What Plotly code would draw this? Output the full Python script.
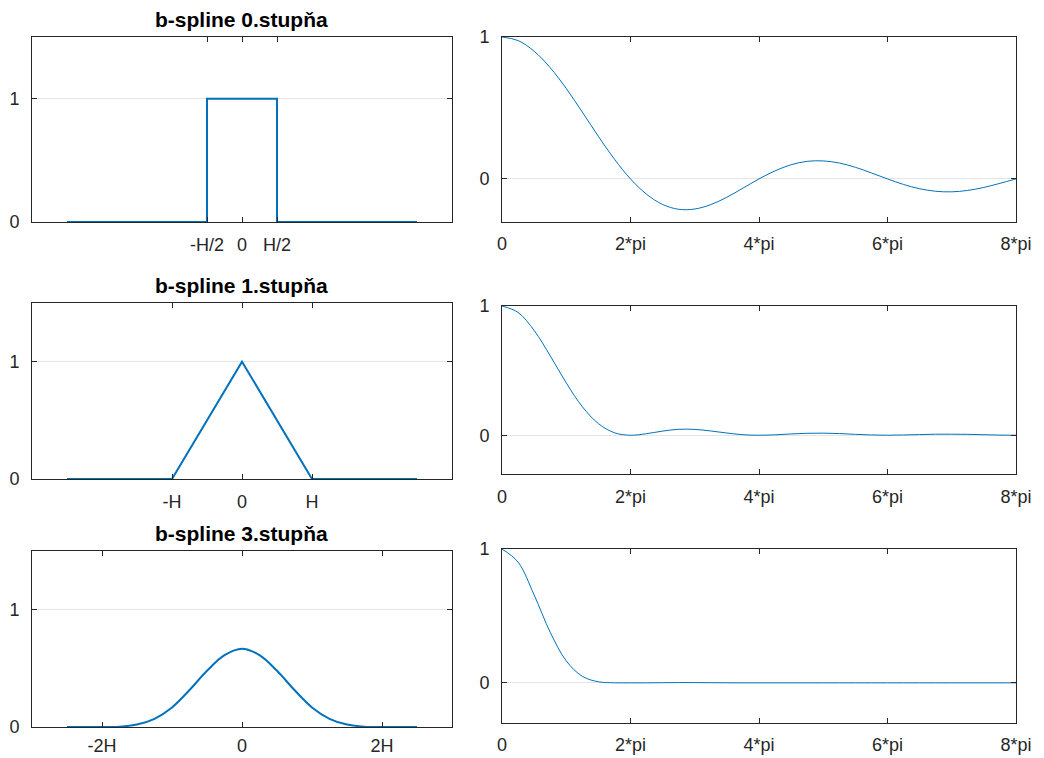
import math
import plotly.graph_objects as go

# ---------------- data ----------------
titles = ["b-spline 0.stupňa", "b-spline 1.stupňa", "b-spline 3.stupňa"]

# left column: b-splines, x in units of H
box_x = [-2.5, -0.5, -0.5, 0.5, 0.5, 2.5]
box_y = [0, 0, 1, 1, 0, 0]

tri_x = [-2.5, -1, 0, 1, 2.5]
tri_y = [0, 0, 1, 0, 0]

cub_x = [-2.5, -2.25, -2.0, -1.75, -1.5, -1.25, -1.0, -0.75, -0.5, -0.25, 0.0,
         0.25, 0.5, 0.75, 1.0, 1.25, 1.5, 1.75, 2.0, 2.25, 2.5]
cub_y = [0, 0, 0, 0.003, 0.021, 0.070, 0.167, 0.315, 0.479, 0.612, 0.667,
         0.612, 0.479, 0.315, 0.167, 0.070, 0.021, 0.003, 0, 0, 0]

left_ticks = [[-0.5, 0, 0.5], [-1, 0, 1], [-2, 0, 2]]
left_ticktext = [["-H/2", "0", "H/2"], ["-H", "0", "H"], ["-2H", "0", "2H"]]

# right column: spectra, x in multiples of pi
w_pi = [0, 0.25, 0.5, 0.75, 1.0, 1.25, 1.5, 1.75, 2.0, 2.25, 2.5, 2.75, 3.0,
        3.25, 3.5, 3.75, 4.0, 4.25, 4.5, 4.75, 5.0, 5.25, 5.5, 5.75, 6.0,
        6.25, 6.5, 6.75, 7.0, 7.25, 7.5, 7.75, 8.0]
spec0 = [1, 0.975, 0.900, 0.784, 0.637, 0.471, 0.300, 0.139, 0, -0.108,
         -0.180, -0.214, -0.212, -0.181, -0.129, -0.065, 0, 0.057, 0.100,
         0.124, 0.127, 0.112, 0.082, 0.042, 0, -0.039, -0.069, -0.087,
         -0.091, -0.081, -0.060, -0.031, 0]
spec1 = [1, 0.950, 0.811, 0.615, 0.405, 0.221, 0.090, 0.019, 0, 0.012,
         0.032, 0.046, 0.045, 0.033, 0.017, 0.004, 0, 0.003, 0.010, 0.015,
         0.016, 0.013, 0.007, 0.002, 0, 0.002, 0.005, 0.008, 0.008, 0.007,
         0.004, 0.001, 0]
spec3 = [1, 0.902, 0.657, 0.378, 0.164, 0.049, 0.008, 0.0004, 0, 0.0001,
         0.001, 0.002, 0.002, 0.001, 0.0003, 0, 0, 0, 0, 0, 0, 0, 0, 0, 0,
         0, 0, 0, 0, 0, 0, 0, 0]

right_tickvals_pi = [0, 2, 4, 6, 8]
right_ticktext = ["0", "2*pi", "4*pi", "6*pi", "8*pi"]

# ---------------- figure ----------------
W, Hh = 1044, 758
BLUE = "#0072BD"
AX = "#262626"
GRID = "#e5e5e5"
FONT = "Liberation Sans, Arial, Helvetica, sans-serif"

def px_dom(a, b, total):
    return [a / total, b / total]

def py_dom(top, bottom):
    return [1 - bottom / Hh, 1 - top / Hh]

left_x_dom = px_dom(32, 452, W)
right_x_dom = px_dom(502, 1016, W)
left_y_doms = [py_dom(37, 222), py_dom(303, 479), py_dom(551, 727)]
right_y_doms = [py_dom(37, 221.5), py_dom(306, 474), py_dom(549, 723)]
left_x_standoff = [6, 6, 2]
right_x_standoff = [6, 6, 5]

fig = go.Figure()

left_data = [(box_x, box_y), (tri_x, tri_y), (cub_x, cub_y)]
right_data = [spec0, spec1, spec3]

layout = dict(
    width=W, height=Hh,
    autosize=False,
    margin=dict(l=0, r=0, t=0, b=0, pad=0),
    paper_bgcolor="white", plot_bgcolor="white",
    showlegend=False,
    font=dict(family=FONT, size=18, color=AX),
)

common_axis = dict(
    showline=True, linecolor=AX, linewidth=1, mirror="ticks",
    ticks="inside", ticklen=5, tickcolor=AX, tickwidth=1,
    zeroline=False, automargin=False,
    tickfont=dict(family=FONT, size=18, color=AX),
)

annotations = []
for i in range(3):
    n_l = 2 * i + 1
    n_r = 2 * i + 2
    xs, ys = left_data[i]
    shape = "spline" if i == 2 else "linear"
    fig.add_trace(go.Scatter(
        x=xs, y=ys, mode="lines",
        line=dict(color=BLUE, width=2, shape=shape),
        xaxis="x" + str(n_l), yaxis="y" + str(n_l), hoverinfo="skip"))
    fig.add_trace(go.Scatter(
        x=[v * math.pi for v in w_pi], y=right_data[i], mode="lines",
        line=dict(color=BLUE, width=1, shape="spline"),
        xaxis="x" + str(n_r), yaxis="y" + str(n_r), hoverinfo="skip"))

    layout["xaxis" + str(n_l)] = dict(
        common_axis, domain=left_x_dom, anchor="y" + str(n_l),
        range=[-3, 3], tickvals=left_ticks[i], ticktext=left_ticktext[i],
        showgrid=False, ticklabelstandoff=left_x_standoff[i])
    layout["yaxis" + str(n_l)] = dict(
        common_axis, domain=left_y_doms[i], anchor="x" + str(n_l),
        range=[0, 1.5], tickvals=[0, 1], showgrid=True, gridcolor=GRID,
        gridwidth=1, ticklabelstandoff=8)
    layout["xaxis" + str(n_r)] = dict(
        common_axis, domain=right_x_dom, anchor="y" + str(n_r),
        range=[0, 8 * math.pi],
        tickvals=[v * math.pi for v in right_tickvals_pi],
        ticktext=right_ticktext, showgrid=False,
        ticklabelstandoff=right_x_standoff[i])
    layout["yaxis" + str(n_r)] = dict(
        common_axis, domain=right_y_doms[i], anchor="x" + str(n_r),
        range=[-0.3, 1], tickvals=[0, 1], showgrid=True, gridcolor=GRID,
        gridwidth=1, ticklabelstandoff=8)

    annotations.append(dict(
        text="<b>" + titles[i] + "</b>", showarrow=False,
        xref="paper", yref="paper",
        x=(left_x_dom[0] + left_x_dom[1]) / 2, y=left_y_doms[i][1],
        xanchor="center", yanchor="bottom", yshift=4,
        font=dict(family=FONT, size=21, color="black")))

layout["annotations"] = annotations
fig.update_layout(**layout)
fig.write_html("out.html")
